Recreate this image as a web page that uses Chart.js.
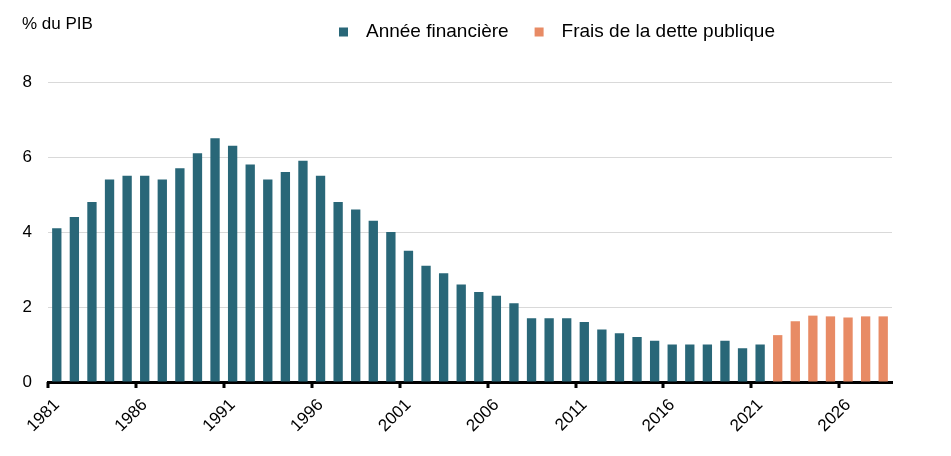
<!DOCTYPE html>
<html lang="fr">
<head>
<meta charset="utf-8">
<title>Frais de la dette publique</title>
<script src="https://cdn.jsdelivr.net/npm/chart.js@4/dist/chart.umd.min.js"></script>
<style>
  html, body { margin: 0; padding: 0; background: #fff; }
  #wrap { width: 951px; height: 456px; position: relative; }
</style>
</head>
<body>
<div id="wrap"><canvas id="chart" width="951" height="456"></canvas></div>
<script>
var years = [
  "1981", "1982", "1983", "1984", "1985", "1986", "1987", "1988", "1989", "1990",
  "1991", "1992", "1993", "1994", "1995", "1996", "1997", "1998", "1999", "2000",
  "2001", "2002", "2003", "2004", "2005", "2006", "2007", "2008", "2009", "2010",
  "2011", "2012", "2013", "2014", "2015", "2016", "2017", "2018", "2019", "2020",
  "2021", "2022", "2023", "2024", "2025", "2026", "2027", "2028"
];

// 1981 - 2021
var anneeFinanciere = [
  4.1, 4.4, 4.8, 5.4, 5.5, 5.5, 5.4, 5.7, 6.1, 6.5,
  6.3, 5.8, 5.4, 5.6, 5.9, 5.5, 4.8, 4.6, 4.3, 4.0,
  3.5, 3.1, 2.9, 2.6, 2.4, 2.3, 2.1, 1.7, 1.7, 1.7,
  1.6, 1.4, 1.3, 1.2, 1.1, 1.0, 1.0, 1.0, 1.1, 0.9,
  1.0
];

// 2022 - 2028
var fraisDette = [1.25, 1.62, 1.77, 1.75, 1.72, 1.75, 1.75];

var yTicks = [0, 2, 4, 6, 8];

var TEAL = "#296778";
var ORANGE = "#e88b65";
var FONT = "'Liberation Sans', Arial, Helvetica, sans-serif";

function padSeries(values, before, total) {
  var out = [];
  for (var i = 0; i < total; i++) {
    var j = i - before;
    out.push(j >= 0 && j < values.length ? values[j] : null);
  }
  return out;
}

var tealData = padSeries(anneeFinanciere, 0, years.length);
var orangeData = padSeries(fraisDette, anneeFinanciere.length, years.length);

// titre de l'axe, légende et petits repères de l'axe x
var headerPlugin = {
  id: "header",
  afterDraw: function (chart) {
    var ctx = chart.ctx;
    var xs = chart.scales.x;
    ctx.save();

    // repères tous les 5 ans, entre les catégories
    var half = (xs.getPixelForValue(1) - xs.getPixelForValue(0)) / 2;
    ctx.fillStyle = "#000";
    for (var i = 0; i < years.length; i += 5) {
      var px = xs.getPixelForValue(i) - half;
      ctx.fillRect(Math.round(px) - 1.5, xs.top, 3, 6);
    }

    ctx.textBaseline = "middle";
    ctx.textAlign = "left";
    ctx.font = "17px " + FONT;
    ctx.fillText("% du PIB", 22, 24);

    ctx.font = "19px " + FONT;
    var x = 339;
    chart.data.datasets.forEach(function (ds) {
      ctx.fillStyle = ds.backgroundColor;
      ctx.fillRect(x, 27.5, 9, 9);
      ctx.fillStyle = "#000";
      ctx.fillText(ds.label, x + 27, 32);
      x += 27 + ctx.measureText(ds.label).width + 26;
    });
    ctx.restore();
  }
};

new Chart(document.getElementById("chart"), {
  type: "bar",
  data: {
    labels: years,
    datasets: [
      {
        label: "Année financière",
        data: tealData,
        backgroundColor: TEAL,
        barPercentage: 0.53,
        categoryPercentage: 1.0
      },
      {
        label: "Frais de la dette publique",
        data: orangeData,
        backgroundColor: ORANGE,
        barPercentage: 0.53,
        categoryPercentage: 1.0
      }
    ]
  },
  options: {
    responsive: false,
    animation: false,
    devicePixelRatio: 1,
    layout: { padding: { top: 82, right: 59, bottom: 0, left: 0 } },
    plugins: {
      legend: { display: false },
      tooltip: { enabled: false }
    },
    scales: {
      x: {
        stacked: true,
        offset: true,
        afterFit: function (scale) { scale.height = 74; },
        border: { display: true, color: "#000", width: 3 },
        grid: {
          offset: true,
          display: true,
          drawOnChartArea: false,
          drawTicks: true,
          tickLength: 6,
          tickColor: "rgba(0,0,0,0)"
        },
        ticks: {
          autoSkip: false,
          maxRotation: 45,
          minRotation: 45,
          padding: 7,
          color: "#000",
          font: { family: FONT, size: 17 },
          callback: function (v, i) { return i % 5 === 0 ? years[i] : null; }
        }
      },
      y: {
        stacked: true,
        min: 0,
        max: 8,
        afterFit: function (scale) { scale.width = 48; },
        afterBuildTicks: function (scale) {
          scale.ticks = yTicks.map(function (v) { return { value: v }; });
        },
        border: { display: false },
        grid: { color: "#d9d9d9", lineWidth: 1, drawTicks: false },
        ticks: {
          padding: 16,
          color: "#000",
          font: { family: FONT, size: 17 }
        }
      }
    }
  },
  plugins: [headerPlugin]
});
</script>
</body>
</html>
